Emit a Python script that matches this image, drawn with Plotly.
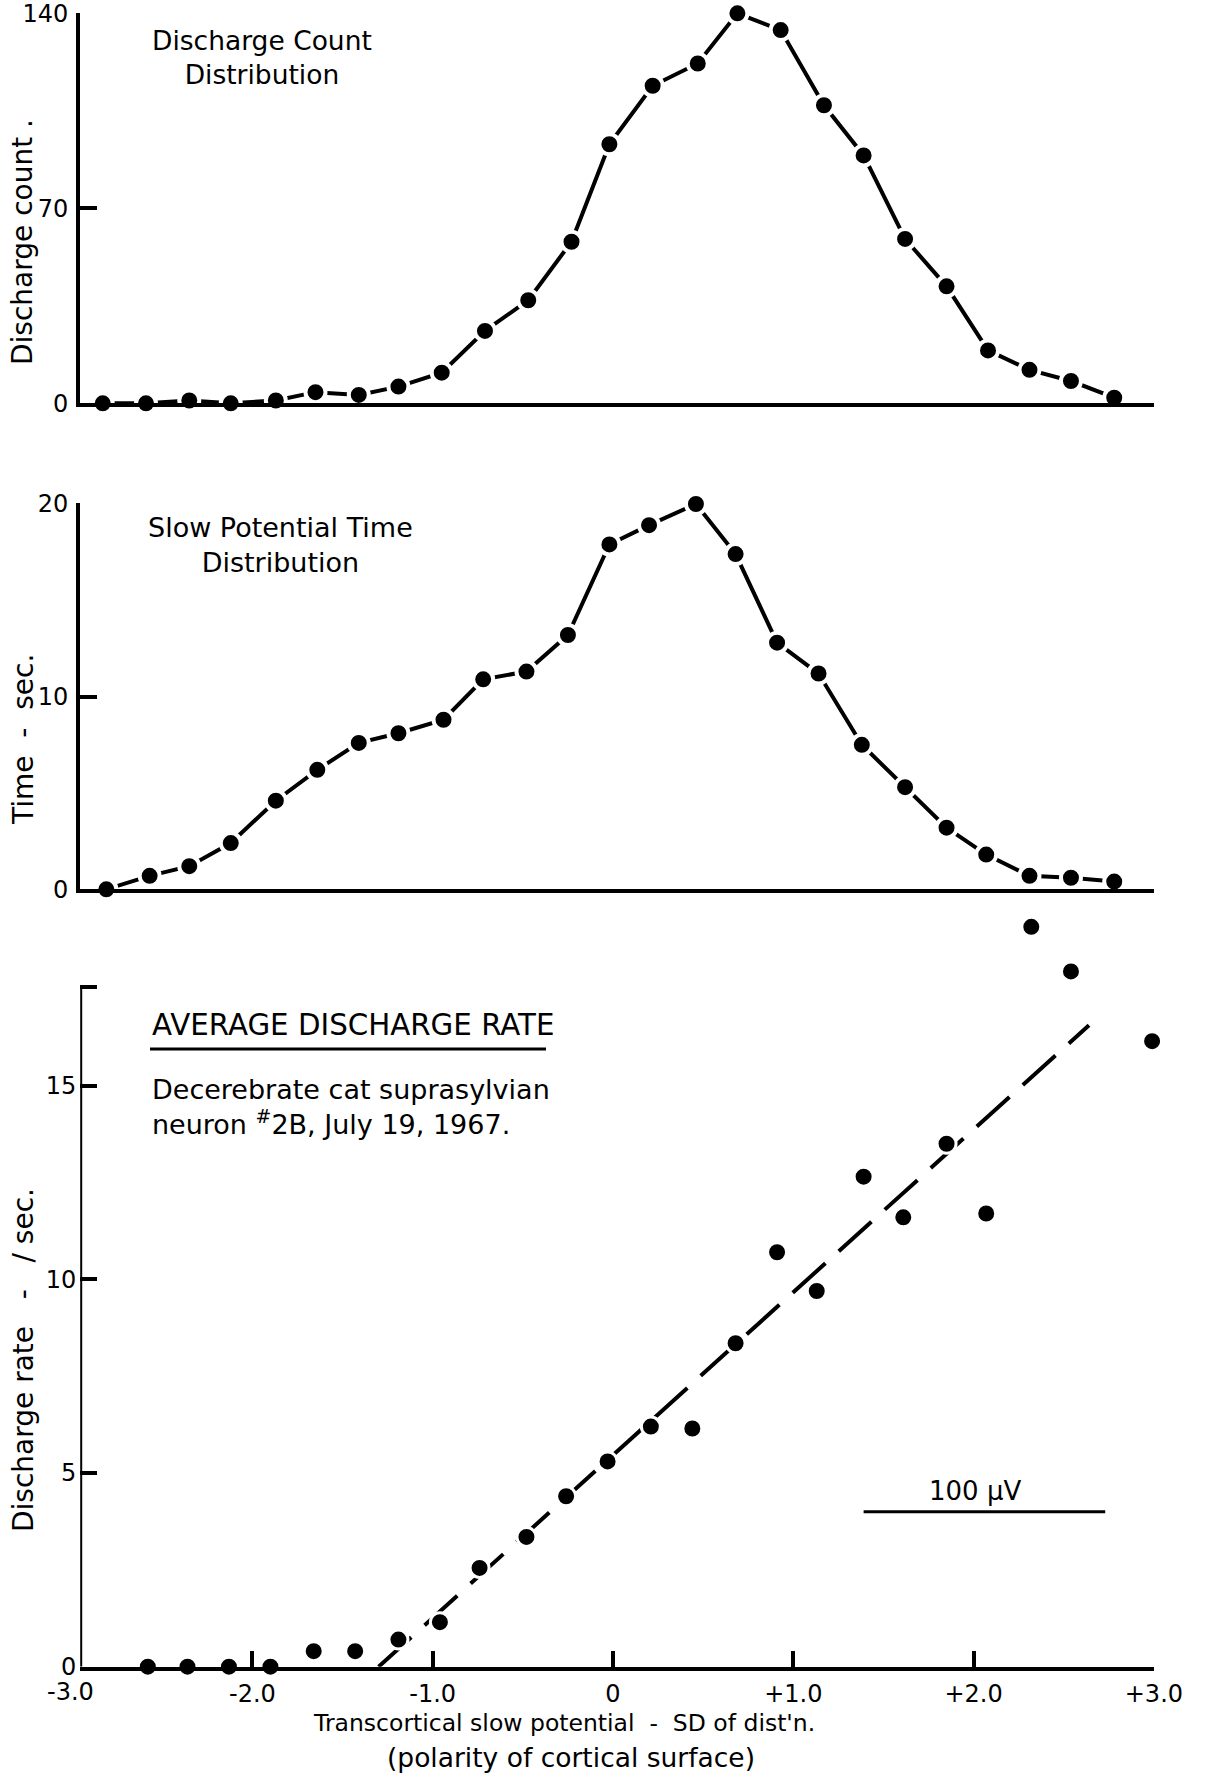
import plotly.graph_objects as go

# ---- data (x in SD units of the transcortical slow potential) ----
count_x = [-2.83, -2.59, -2.35, -2.12, -1.87, -1.65, -1.41, -1.19, -0.95, -0.71,
           -0.47, -0.23, -0.02, 0.22, 0.47, 0.69, 0.93, 1.17, 1.39, 1.62,
           1.85, 2.08, 2.31, 2.54, 2.78]
discharge_count = [0, 0, 1, 0, 1, 4, 3, 6, 11, 26, 37, 58, 93, 114, 122, 140,
                   134, 107, 89, 59, 42, 19, 12, 8, 2]

time_x = [-2.81, -2.57, -2.35, -2.12, -1.87, -1.64, -1.41, -1.19, -0.94, -0.72,
          -0.48, -0.25, -0.02, 0.20, 0.46, 0.68, 0.91, 1.14, 1.38, 1.62,
          1.85, 2.07, 2.31, 2.54, 2.78]
time_sec = [0.0, 0.7, 1.2, 2.4, 4.6, 6.2, 7.6, 8.1, 8.8, 10.9, 11.3, 13.2, 17.9,
            18.9, 20.0, 17.4, 12.8, 11.2, 7.5, 5.3, 3.2, 1.8, 0.7, 0.6, 0.4]

rate_x = [-2.58, -2.36, -2.13, -1.90, -1.66, -1.43, -1.19, -0.96, -0.74, -0.48,
          -0.26, -0.03, 0.21, 0.44, 0.68, 0.91, 1.13, 1.39, 1.61, 1.85,
          2.07, 2.32, 2.54, 2.99]
rate_per_sec = [0.0, 0.0, 0.0, 0.0, 0.4, 0.4, 0.7, 1.15, 2.55, 3.35, 4.4, 5.3,
                6.2, 6.15, 8.35, 10.7, 9.7, 12.65, 11.6, 13.5, 11.7, 19.1, 17.95,
                16.15]

# fitted line for the discharge rate
fit_x = [-1.30, 2.64]
fit_y = [0.0, 16.56]

# 100 microvolt calibration bar, in SD units
bar_x = [1.39, 2.73]
bar_y = 4.0

x_tickvals = [-2, -1, 0, 1, 2, 3]
x_ticktext = ["-2.0", "-1.0", "0", "+1.0", "+2.0", "+3.0"]

# ---- page geometry ----
W, H = 1206, 1782
FONT = "DejaVu Sans"
INK = "black"
X_LEFT = -2.955          # where the vertical axes stand
RATE_AXIS_TOP = 17.54    # drawn height of the rate axis
RATE_RANGE_TOP = 19.6    # plotted range, leaves room for the high points


def px(x):
    return x / W


def py(y):
    return 1 - y / H


fig = go.Figure()


def connected(xs, ys, xa, ya):
    fig.add_trace(go.Scatter(x=xs, y=ys, xaxis=xa, yaxis=ya, mode="lines",
                             line=dict(color=INK, width=4), cliponaxis=False,
                             hoverinfo="skip", showlegend=False))


def dots(xs, ys, xa, ya, ring=4):
    fig.add_trace(go.Scatter(x=xs, y=ys, xaxis=xa, yaxis=ya, mode="markers",
                             marker=dict(color=INK, size=16 + ring,
                                         line=dict(color="white", width=ring)),
                             cliponaxis=False, showlegend=False))


connected(count_x, discharge_count, "x", "y")
connected(time_x, time_sec, "x2", "y2")
fig.add_trace(go.Scatter(x=fit_x, y=fit_y, xaxis="x3", yaxis="y3", mode="lines",
                         line=dict(color=INK, width=4, dash="44px,18px"),
                         cliponaxis=False, hoverinfo="skip", showlegend=False))
dots(count_x, discharge_count, "x", "y")
dots(time_x, time_sec, "x2", "y2")
dots(rate_x, rate_per_sec, "x3", "y3", ring=3)

xdom = [px(80.2), px(1153.9)]
base_x = dict(range=[X_LEFT, 3.0], domain=xdom, showgrid=False, zeroline=False,
              showline=True, linecolor=INK, linewidth=4, ticks="inside",
              ticklen=16, tickwidth=4, tickcolor=INK, automargin=False,
              ticklabeloverflow="allow",
              tickfont=dict(family=FONT, size=24, color=INK))
base_y = dict(showgrid=False, zeroline=False, showline=True, linecolor=INK,
              linewidth=4, ticks="inside", ticklen=17, tickwidth=4,
              tickcolor=INK, ticklabelstandoff=3, automargin=False,
              ticklabeloverflow="allow",
              tickfont=dict(family=FONT, size=24, color=INK))

rate_px_per_unit = 38.735
rate_top_px = 1666.7 - RATE_RANGE_TOP * rate_px_per_unit

fig.update_layout(
    template="none",
    width=W, height=H,
    margin=dict(l=0, r=0, t=0, b=0, pad=0),
    paper_bgcolor="white", plot_bgcolor="white",
    showlegend=False,
    xaxis=dict(base_x, anchor="y", tickvals=[3.0], showticklabels=False),
    yaxis=dict(base_y, anchor="x", domain=[py(403.3), py(12.5)],
               range=[0, 140.3], tickvals=[0, 70, 140],
               ticktext=["0", "70", "140"]),
    xaxis2=dict(base_x, anchor="y2", tickvals=[3.0], showticklabels=False),
    yaxis2=dict(base_y, anchor="x2", domain=[py(889.3), py(503.4)],
                range=[0, 20.03], tickvals=[0, 10, 20],
                ticktext=["0", "10", "20"]),
    xaxis3=dict(base_x, anchor="y3", tickvals=x_tickvals, ticktext=x_ticktext,
                ticklabelstandoff=2),
    yaxis3=dict(base_y, anchor="x3", domain=[py(1666.7), py(rate_top_px)],
                range=[0, RATE_RANGE_TOP], showline=False,
                tickvals=[0, 5, 10, 15, RATE_AXIS_TOP],
                ticktext=["0", "5", "10", "15", " "]),
)

# the rate axis stops short of the highest points
fig.add_shape(type="line", xref="x3", yref="y3", x0=X_LEFT, x1=X_LEFT,
              y0=0, y1=RATE_AXIS_TOP, line=dict(color=INK, width=4),
              layer="above")


def text(s, x, y, size, **kw):
    opts = dict(x=px(x), y=py(y), xref="paper", yref="paper", text=s,
                showarrow=False, xanchor="center", yanchor="middle",
                font=dict(family=FONT, size=size, color=INK))
    opts.update(kw)
    fig.add_annotation(**opts)


# panel captions
text("Discharge Count<br>Distribution", 262, 57, 26.5)
text("Slow Potential Time<br>Distribution", 280, 545, 27)
text("AVERAGE DISCHARGE RATE", 150, 1025, 29.3, xanchor="left")
text("Decerebrate cat suprasylvian<br>neuron <sup>#</sup>2B, July 19, 1967.",
     150, 1107, 27, xanchor="left", align="left")

# y-axis titles
nb = "\u00a0"
text("Discharge count .", 23, 242, 28, textangle=-90)
text("Time" + nb * 2 + "-" + nb * 2 + "sec.", 23, 740, 28, textangle=-90)
text("Discharge rate" + nb * 3 + "-" + nb * 3 + "/" + nb + "sec.", 23, 1360, 28,
     textangle=-90)

# x-axis title and the left-most tick label
text("-3.0", 70, 1692, 24)
text("Transcortical slow potential" + nb * 2 + "-" + nb * 2 + "SD of dist'n.",
     564, 1723, 23.5)
text("(polarity of cortical surface)", 571, 1757, 26.5)

# calibration bar
fig.add_shape(type="line", xref="x3", yref="y3", x0=bar_x[0], x1=bar_x[1],
              y0=bar_y, y1=bar_y, line=dict(color=INK, width=3))
fig.add_annotation(x=sum(bar_x) / 2 - 0.05, y=bar_y, xref="x3", yref="y3",
                   text="100 μV", showarrow=False, yanchor="bottom", yshift=4,
                   font=dict(family=FONT, size=26, color=INK))

# underline of the rate caption
fig.add_shape(type="line", xref="paper", yref="paper", x0=px(150), x1=px(546),
              y0=py(1049), y1=py(1049), line=dict(color=INK, width=3))

fig.write_html("out.html")
